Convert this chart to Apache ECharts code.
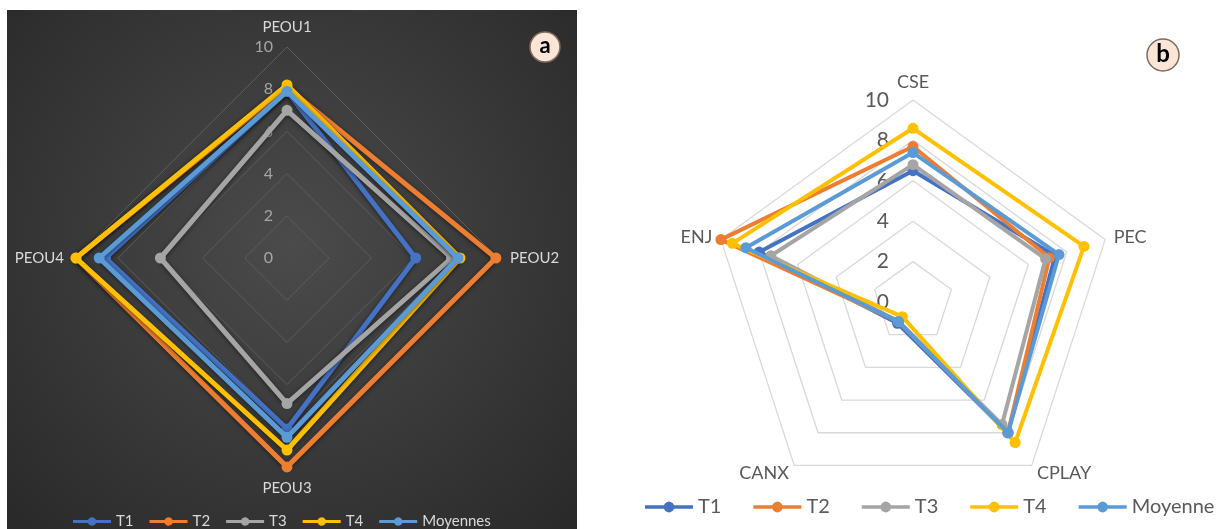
<!DOCTYPE html>
<html><head><meta charset="utf-8">
<script src="https://cdn.jsdelivr.net/npm/echarts@6/dist/echarts.min.js"></script>
<style>html,body{margin:0;padding:0;background:#fff}#c{width:1220px;height:529px}</style>
</head><body><div id="c"></div>
<script>
// ---------- data ----------
const seriesNamesA = ['T1', 'T2', 'T3', 'T4', 'Moyennes'];
const seriesNamesB = ['T1', 'T2', 'T3', 'T4', 'Moyenne'];
const catsA = ['PEOU1', 'PEOU2', 'PEOU3', 'PEOU4'];
const catsB = ['CSE', 'PEC', 'CPLAY', 'CANX', 'ENJ'];
const axisTicks = [0, 2, 4, 6, 8, 10];

const a_T1 = [7.9, 6.1, 8.1, 8.6];
const a_T2 = [8.1, 9.9, 9.9, 10.0];
const a_T3 = [7.0, 7.8, 6.9, 6.0];
const a_T4 = [8.2, 8.2, 9.1, 10.0];
const a_Moy = [7.9, 8.1, 8.5, 8.9];

const b_T1 = [6.5, 7.4, 8.0, 1.3, 8.0];
const b_T2 = [7.7, 7.1, 8.0, 1.2, 10.0];
const b_T3 = [6.8, 6.9, 7.5, 1.2, 7.4];
const b_T4 = [8.6, 8.9, 8.6, 0.9, 9.4];
const b_Moy = [7.4, 7.6, 8.0, 1.2, 8.7];

const colors = ['#4472C4', '#ED7D31', '#A5A5A5', '#FFC000', '#5B9BD5'];

// ---------- helpers ----------
// ECharts radar runs counter-clockwise; the reference runs clockwise.
const cw = arr => [arr[0]].concat(arr.slice(1).reverse());
const ICON = 'path://M0,3.5H15.76A4.5,4.5,0,0,1,24.24,3.5H40V6.5H24.24A4.5,4.5,0,0,1,15.76,6.5H0Z';
const FONT = 'Lato, "Open Sans", sans-serif';

const dataA = [a_T1, a_T2, a_T3, a_T4, a_Moy];
const dataB = [b_T1, b_T2, b_T3, b_T4, b_Moy];
const tMin = axisTicks[0], tMax = axisTicks[axisTicks.length - 1];

function indicators(cats, labelStyle) {
  return cw(cats).map((n, i) => {
    const o = { name: n, min: tMin, max: tMax };
    if (i === 0) o.axisLabel = Object.assign({ show: true, showMinLabel: true, showMaxLabel: true, fontFamily: FONT }, labelStyle);
    return o;
  });
}

const series = [];
dataA.forEach((d, i) => {
  series.push({
    type: 'radar', radarIndex: 0, name: seriesNamesA[i],
    symbol: 'circle', symbolSize: 11, z: 2 + i * 0.01,
    lineStyle: { width: 5, color: colors[i], shadowBlur: 4, shadowColor: 'rgba(0,0,0,0.55)', shadowOffsetY: 1 },
    itemStyle: { color: colors[i] },
    data: [{ name: seriesNamesA[i], value: cw(d) }]
  });
});
dataB.forEach((d, i) => {
  series.push({
    type: 'radar', radarIndex: 1, name: seriesNamesB[i],
    symbol: 'circle', symbolSize: 11, z: 2 + i * 0.01,
    lineStyle: { width: 4, color: colors[i] },
    itemStyle: { color: colors[i] },
    data: [{ name: seriesNamesB[i], value: cw(d) }]
  });
});

const chart = echarts.init(document.getElementById('c'));
chart.setOption({
  animation: false,
  backgroundColor: '#ffffff',
  graphic: [
    { type: 'rect', z: -10, shape: { x: 7, y: 10, width: 570, height: 519 },
      style: { fill: { type: 'radial', x: 0.5, y: 0.45, r: 0.75,
        colorStops: [{ offset: 0, color: '#4b4b4b' }, { offset: 1, color: '#2a2a2a' }] } } },
    { type: 'circle', z: 100, shape: { cx: 545, cy: 47, r: 15 }, style: { fill: '#fbe5d6', stroke: '#7f6a5c', lineWidth: 1.5 } },
    { type: 'text', z: 101, x: 545, y: 46, style: { text: 'a', font: 'bold 22px ' + FONT, fill: '#000', align: 'center', verticalAlign: 'middle' } },
    { type: 'circle', z: 100, shape: { cx: 1163, cy: 55, r: 16 }, style: { fill: '#fbe5d6', stroke: '#7f6a5c', lineWidth: 1.5 } },
    { type: 'text', z: 101, x: 1163, y: 54, style: { text: 'b', font: 'bold 24px ' + FONT, fill: '#000', align: 'center', verticalAlign: 'middle' } }
  ],
  legend: [
    { data: seriesNamesA, left: 68, top: 509, width: 500, icon: ICON, itemWidth: 38, itemHeight: 10, itemGap: 16,
      selectedMode: false, textStyle: { color: '#d9d9d9', fontSize: 15, fontFamily: FONT } },
    { data: seriesNamesB, left: 645, top: 497, width: 575, icon: ICON, itemWidth: 48, itemHeight: 12, itemGap: 32,
      selectedMode: false, padding: 0, textStyle: { color: '#595959', fontSize: 20, fontFamily: FONT } }
  ],
  radar: [
    { center: [287, 258], radius: 211, shape: 'polygon', splitNumber: axisTicks.length - 1,
      startAngle: 90, nameGap: 12,
      axisName: { color: '#d9d9d9', fontSize: 15, fontFamily: FONT },
      splitLine: { lineStyle: { color: '#5c5c5c', width: 1 } },
      splitArea: { show: false }, axisLine: { show: false }, axisTick: { show: false },
      axisLabel: { show: false },
      indicator: indicators(catsA, { color: '#a6a6a6', fontSize: 16, margin: 14 }) },
    { center: [913, 302], radius: 202, shape: 'polygon', splitNumber: axisTicks.length - 1,
      startAngle: 90, nameGap: 9,
      axisName: { color: '#595959', fontSize: 18, fontFamily: FONT },
      splitLine: { lineStyle: { color: '#d9d9d9', width: 1.3 } },
      splitArea: { show: false }, axisLine: { show: false }, axisTick: { show: false },
      axisLabel: { show: false },
      indicator: indicators(catsB, { color: '#595959', fontSize: 21, margin: 24 }) }
  ],
  series: series
});
</script></body></html>
